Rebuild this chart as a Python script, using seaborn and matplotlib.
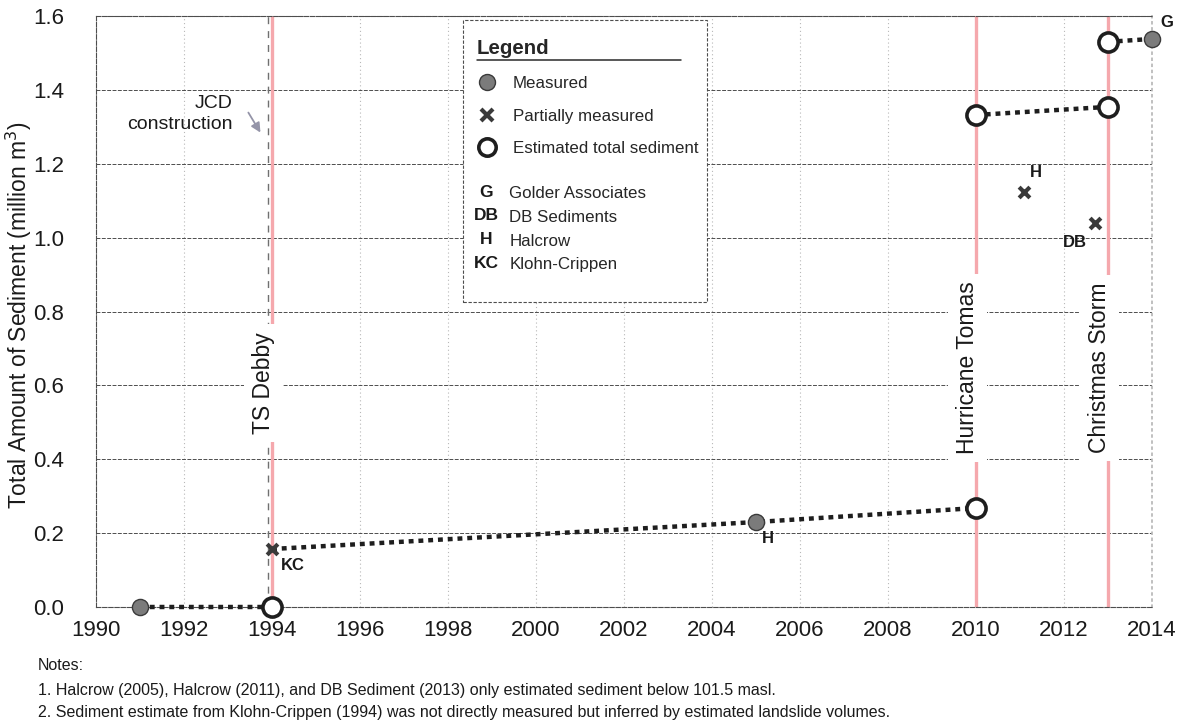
import matplotlib
matplotlib.use("Agg")
import matplotlib.pyplot as plt
import matplotlib.text as mtext
import pandas as pd
import seaborn as sns
from matplotlib import font_manager
from matplotlib.legend_handler import HandlerBase
from matplotlib.lines import Line2D
from matplotlib.patches import Rectangle
from matplotlib.transforms import IdentityTransform

# ---- sediment data (million m3) ----
measured_year = [1991, 2005, 2014]
measured_value = [0.0, 0.23, 1.538]
measured_source = ["", "H", "G"]

partial_year = [1994, 2011.1, 2012.7]
partial_value = [0.157, 1.124, 1.040]
partial_source = ["KC", "H", "DB"]

estimated_year = [1994, 2010, 2010, 2013, 2013]
estimated_value = [0.0, 0.268, 1.332, 1.354, 1.530]

event_years = [1994, 2010, 2013]
event_names = ["TS Debby", "Hurricane Tomas", "Christmas Storm"]
jcd_year = 1993.9

source_codes = ["G", "DB", "H", "KC"]
source_names = ["Golder Associates", "DB Sediments", "Halcrow", "Klohn-Crippen"]

x_ticks = list(range(1990, 2015, 2))
y_ticks = [0.0, 0.2, 0.4, 0.6, 0.8, 1.0, 1.2, 1.4, 1.6]

notes = [
    "Notes:",
    "1. Halcrow (2005), Halcrow (2011), and DB Sediment (2013) only estimated sediment below 101.5 masl.",
    "2. Sediment estimate from Klohn-Crippen (1994) was not directly measured but inferred by estimated landslide volumes.",
]

measured = pd.DataFrame({"year": measured_year, "value": measured_value, "source": measured_source})
partial = pd.DataFrame({"year": partial_year, "value": partial_value, "source": partial_source})
estimated = pd.DataFrame({"year": estimated_year, "value": estimated_value})

# dotted connections between successive estimates
chains = [
    [(measured, 0), (estimated, 0)],
    [(partial, 0), (measured, 1), (estimated, 1)],
    [(estimated, 2), (estimated, 3)],
    [(estimated, 4), (measured, 2)],
]

sns.set_theme(style="white")
plt.rcParams["font.family"] = ["Liberation Sans", "DejaVu Sans"]
names = {f.name for f in font_manager.fontManager.ttflist}
narrow = "Liberation Sans Narrow" if "Liberation Sans Narrow" in names else "Liberation Sans"

W, H = 1182, 727
fig = plt.figure(figsize=(W / 100, H / 100), dpi=100)
ax = fig.add_axes([96 / W, 120 / H, 1056 / W, 591 / H])
ax.set_xlim(1990, 2014)
ax.set_ylim(0, 1.6)

# grid and frame
ax.set_axisbelow(True)
ax.yaxis.grid(True, color="#4d4d4d", linestyle=(0, (4, 1.5)), lw=0.7)
ax.xaxis.grid(True, color="#b8b8b8", linestyle=(0, (1, 2.5)), lw=0.8)
for side in ["left", "bottom", "top"]:
    ax.spines[side].set_color("#4d4d4d")
    ax.spines[side].set_linestyle((0, (4, 1.5)))
    ax.spines[side].set_linewidth(0.8)
ax.spines["right"].set_color("#b8b8b8")
ax.spines["right"].set_linestyle((0, (1, 2.5)))
ax.set_xticks(x_ticks)
ax.set_yticks(y_ticks)
ax.set_yticklabels([f"{v:.1f}" for v in y_ticks])
ax.tick_params(direction="inout", length=6, width=0.6, color="#666666",
               labelcolor="#1a1a1a")
ax.tick_params(axis="x", labelsize=16, pad=6)
ax.tick_params(axis="y", labelsize=16, pad=20)

# storm events and dam construction
for yr in event_years:
    ax.axvline(yr, color="#f5a8ad", lw=2.4, zorder=2)
ax.axvline(jcd_year, color="#707070", lw=1.0, linestyle=(0, (5, 5)), zorder=2)

event_label_y = [0.606, 0.647, 0.647]
event_label_dx = [-0.2, -0.2, -0.2]
for yr, name, ly, dx in zip(event_years, event_names, event_label_y, event_label_dx):
    ax.text(yr + dx, ly, name, rotation=90, ha="center", va="center", fontsize=16.5,
            color="#1a1a1a", zorder=4,
            bbox=dict(boxstyle="square,pad=0.35", fc="white", ec="none"))

ax.annotate("", xy=(jcd_year - 0.13, 1.278), xytext=(jcd_year - 0.47, 1.345),
            arrowprops=dict(arrowstyle="-|>", color="#9494a8", lw=1.3,
                            mutation_scale=14), zorder=4)
ax.text(jcd_year - 0.8, 1.335, "JCD\nconstruction", ha="right", va="center",
        multialignment="right", fontsize=14, color="#1a1a1a", linespacing=1.25)

# dotted connectors
for chain in chains:
    xs = [df["year"].iloc[i] for df, i in chain]
    ys = [df["value"].iloc[i] for df, i in chain]
    ax.plot(xs, ys, color="#1e1e1e", lw=3.2, linestyle=(0, (1.1, 1.1)),
            dash_capstyle="butt", zorder=3, clip_on=False)

# markers
sns.scatterplot(data=estimated, x="year", y="value", ax=ax, marker="o", s=190,
                facecolor="white", edgecolor="#1e1e1e", linewidth=2.6, zorder=5,
                clip_on=False, legend=False)
sns.scatterplot(data=measured, x="year", y="value", ax=ax, marker="o", s=135,
                color="#7b7b7b", edgecolor="#3a3a3a", linewidth=1.0, zorder=5,
                clip_on=False, legend=False)
sns.scatterplot(data=partial, x="year", y="value", ax=ax, marker="x", s=60,
                color="#3a3a3a", linewidth=3.0, zorder=5, clip_on=False, legend=False)
ax.set_xlabel("")
ax.set_ylabel("Total Amount of Sediment (million m$^3$)", fontsize=16.5,
              color="#1a1a1a")
ax.yaxis.set_label_coords(-0.0585, 0.494)

# source letters beside the points
label_offsets = {
    ("measured", 1): (8.6, -12.2),
    ("measured", 2): (10.8, 11.5),
    ("partial", 0): (15, -12),
    ("partial", 1): (8, 13.7),
    ("partial", 2): (-14.4, -14.4),
}
for (kind, i), off in label_offsets.items():
    df = measured if kind == "measured" else partial
    ax.annotate(df["source"].iloc[i], (df["year"].iloc[i], df["value"].iloc[i]),
                xytext=off, textcoords="offset points", ha="center", va="center",
                fontsize=12, fontweight="bold", color="#1a1a1a", zorder=6,
                annotation_clip=False)

# legend
class LetterHandler(HandlerBase):
    def create_artists(self, legend, orig_handle, xdescent, ydescent, width,
                       height, fontsize, trans):
        t = mtext.Text(width / 2 - xdescent, height / 2 - ydescent,
                       orig_handle.get_text(), ha="center", va="center",
                       fontsize=12.5, fontweight="bold", color="#1a1a1a",
                       transform=trans)
        return [t]


frame = Rectangle((0.3475, 0.516), 0.2314, 0.4772, transform=ax.transAxes,
                  fc="white", ec="#4d4d4d", lw=0.8, linestyle=(0, (3, 1.5)),
                  zorder=7)
ax.add_patch(frame)

h_meas = Line2D([], [], marker="o", ls="none", ms=11.5, mfc="#7b7b7b",
                mec="#3a3a3a", mew=1.0)
h_part = Line2D([], [], marker="x", ls="none", ms=8, mec="#3a3a3a", mew=3.0)
h_est = Line2D([], [], marker="o", ls="none", ms=12.5, mfc="white",
               mec="#1e1e1e", mew=2.6)
legA = ax.legend([h_meas, h_part, h_est],
                 ["Measured", "Partially measured", "Estimated total sediment"],
                 title="Legend", loc="upper left",
                 bbox_to_anchor=((477 - 96) / 1056, (607 - 39) / 591),
                 borderaxespad=0, borderpad=0, frameon=False,
                 prop={"size": 12.2}, alignment="left",
                 title_fontproperties={"weight": "bold", "size": 14.7},
                 labelspacing=1.05, handlelength=1.15, handletextpad=0.95)
legA.set_zorder(8)
ax.add_artist(legA)

letter_handles = [mtext.Text(text=c) for c in source_codes]
legB = ax.legend(letter_handles, source_names, loc="upper left",
                 bbox_to_anchor=((477 - 96) / 1056, (607 - 186) / 591),
                 borderaxespad=0, borderpad=0, frameon=False,
                 prop={"size": 12.2}, labelspacing=0.52, handlelength=1.1,
                 handletextpad=0.8,
                 handler_map={mtext.Text: LetterHandler()})
legB.set_zorder(8)

fig.canvas.draw()
tb = legA.get_title().get_window_extent()
fig.lines.append(Line2D([tb.x0, tb.x0 + 204], [tb.y0 - 2, tb.y0 - 2],
                        transform=IdentityTransform(), color="#2a2a2a",
                        lw=1.1, zorder=9))

# notes under the chart
note_y = [666, 690, 712]
for txt, yy in zip(notes, note_y):
    fig.text(38 / W, 1 - yy / H, txt, ha="left", va="center", fontsize=11.5,
             family=narrow, color="#1a1a1a")

fig.savefig("out.png", dpi=100)
